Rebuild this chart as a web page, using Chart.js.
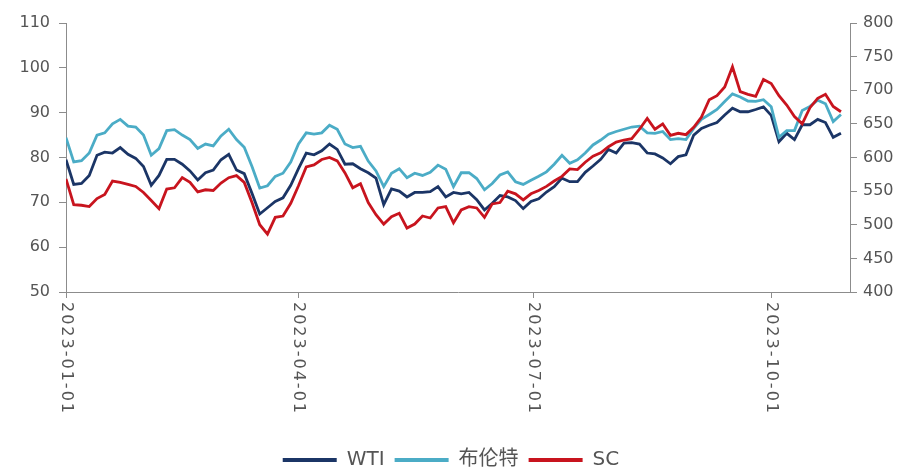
<!DOCTYPE html>
<html>
<head>
<meta charset="utf-8">
<script src="https://cdn.jsdelivr.net/npm/chart.js@4.4.1/dist/chart.umd.min.js"></script>
<style>
  html, body { margin: 0; padding: 0; background: #fff; }
  #wrap { width: 902px; height: 470px; }
</style>
</head>
<body>
<div id="wrap"><canvas id="myChart" width="902" height="470"></canvas></div>
<script>
// days since 2023-01-01
var dayOffsets = [0,3,6,9,12,15,18,21,24,27,30,33,36,39,42,45,48,51,54,57,
  60,63,66,69,72,75,78,81,84,87,90,93,96,99,102,105,108,111,114,117,
  120,123,126,129,132,135,138,141,144,147,150,153,156,159,162,165,168,171,174,177,
  180,183,186,189,192,195,198,201,204,207,210,213,216,219,222,225,228,231,234,237,
  240,243,246,249,252,255,258,261,264,267,270,273,276,279,282,285,288,291,294,297,300];

var wti = [79.5,74,74.2,76,80.5,81.2,81,82.2,80.7,79.8,78,73.8,76,79.6,79.6,78.5,77,75,76.6,77.2,
  79.5,80.7,77.2,76.4,72,67.4,68.8,70.2,71,73.8,77.5,81,80.6,81.5,83,81.8,78.5,78.6,77.5,76.6,
  75.4,69.5,73,72.5,71.2,72.2,72.2,72.4,73.5,71.2,
  72.2,71.9,72.2,70.6,68.3,69.8,71.5,71.2,70.4,68.6,70.2,70.8,72.3,73.5,75.4,74.6,74.6,76.7,78.1,79.6,
  81.8,81,83.2,83.3,83,81,80.8,79.9,78.6,80.2,80.6,85,86.5,87.2,87.8,89.5,91,90.2,90.2,90.7,
  91.3,89.4,83.5,85.4,84,87.3,87.3,88.5,87.8,84.5,85.4];

var brent = [84.4,79,79.3,81,85,85.5,87.5,88.5,87,86.8,85,80.5,82,86,86.2,85,84,82,83,82.6,
  84.8,86.3,84,82.3,78,73.2,73.7,75.8,76.5,79,83,85.5,85.2,85.5,87.2,86.3,83,82.2,82.5,79.2,
  77,73.5,76.5,77.5,75.5,76.5,76,76.7,78.3,77.4,
  73.5,76.6,76.6,75.3,72.8,74.2,76.1,76.8,74.6,74,74.9,75.8,76.8,78.5,80.5,78.7,79.5,81,82.8,83.9,
  85.2,85.8,86.3,86.8,87,85.5,85.4,85.8,84,84.2,84,86.5,88.5,89.6,90.7,92.5,94.2,93.5,92.6,92.5,
  92.9,91.3,84.5,86,86,90.5,91.4,92.8,92,88,89.6];

var sc = [568,530,529,527,539,545,565,563,560,557,548,536,524,553,555,570,563,549,552,551,
  562,570,573,563,533,500,486,511,513,532,558,586,589,597,600,595,577,555,561,533,
  515,501,512,517,495,501,513,510,525,527,
  503,522,527,525,511,531,533,550,546,537,546,551,557,565,572,583,582,593,602,607,
  616,623,626,628,642,658,642,650,633,636,634,645,660,686,692,705,735,698,694,691,
  716,710,692,678,661,650,674,688,694,676,668];

var seriesNames = ['WTI', '布伦特', 'SC'];
var tickDays = [0, 90, 181, 273];
var tickLabels = ['2023-01-01', '2023-04-01', '2023-07-01', '2023-10-01'];

var axisColor = '#8c8c8c';
var textColor = '#555555';
var numFont = '"DejaVu Sans", "Noto Sans CJK SC", sans-serif';

function toPoints(values) {
  return values.map(function (v, i) { return { x: dayOffsets[i], y: v }; });
}

// x labels read top to bottom, so they are drawn here at the scale's own tick pixels
var xLabelPlugin = {
  id: 'xLabels',
  afterDraw: function (chart) {
    var xs = chart.scales.x;
    var ctx = chart.ctx;
    ctx.save();
    ctx.fillStyle = textColor;
    ctx.font = '16px ' + numFont;
    ctx.letterSpacing = '2px';
    ctx.textAlign = 'left';
    ctx.textBaseline = 'middle';
    for (var i = 0; i < tickDays.length; i++) {
      var px = xs.getPixelForValue(tickDays[i]);
      ctx.save();
      ctx.translate(px, xs.top + 10);
      ctx.rotate(Math.PI / 2);
      ctx.fillText(tickLabels[i], 0, 0);
      ctx.restore();
    }
    ctx.restore();
  }
};

var ctx = document.getElementById('myChart').getContext('2d');
var myChart = new Chart(ctx, {
  type: 'line',
  data: {
    datasets: [{
      label: seriesNames[0],
      data: toPoints(wti),
      borderColor: '#1b3566',
      backgroundColor: '#1b3566',
      yAxisID: 'y',
      order: 3
    }, {
      label: seriesNames[1],
      data: toPoints(brent),
      borderColor: '#4bacc6',
      backgroundColor: '#4bacc6',
      yAxisID: 'y',
      order: 2
    }, {
      label: seriesNames[2],
      data: toPoints(sc),
      borderColor: '#c8141e',
      backgroundColor: '#c8141e',
      yAxisID: 'y1',
      order: 1
    }]
  },
  options: {
    responsive: false,
    animation: false,
    layout: { padding: { top: 23, left: 0, right: 0, bottom: 0 } },
    elements: {
      point: { radius: 0 },
      line: { borderWidth: 2.8, tension: 0 }
    },
    plugins: {
      tooltip: { enabled: false },
      legend: {
        position: 'bottom',
        maxHeight: 30,
        labels: {
          boxWidth: 54,
          boxHeight: 4,
          padding: 10,
          color: textColor,
          font: { size: 20, family: numFont },
          sort: function (a, b) { return a.datasetIndex - b.datasetIndex; },
          generateLabels: function (chart) {
            var items = Chart.defaults.plugins.legend.labels.generateLabels(chart);
            items.forEach(function (it) { it.lineWidth = 0; });
            return items;
          }
        }
      }
    },
    scales: {
      x: {
        type: 'linear',
        min: 0,
        max: 303.5,
        afterBuildTicks: function (axis) {
          axis.ticks = tickDays.map(function (d) { return { value: d }; });
        },
        afterFit: function (axis) { axis.height = 148; },
        ticks: { display: false },
        grid: { drawOnChartArea: false, drawTicks: true, tickLength: 6, color: axisColor },
        border: { color: axisColor, width: 1 }
      },
      y: {
        position: 'left',
        min: 50,
        max: 110,
        afterFit: function (axis) { axis.width = 66; },
        ticks: { stepSize: 10, color: textColor, padding: 9, font: { size: 16, family: numFont } },
        grid: { drawOnChartArea: false, drawTicks: true, tickLength: 7, color: axisColor },
        border: { color: axisColor, width: 1 }
      },
      y1: {
        position: 'right',
        min: 400,
        max: 800,
        afterFit: function (axis) { axis.width = 52; },
        ticks: { stepSize: 50, color: textColor, padding: 6, font: { size: 16, family: numFont } },
        grid: { drawOnChartArea: false, drawTicks: true, tickLength: 7, color: axisColor },
        border: { color: axisColor, width: 1 }
      }
    }
  },
  plugins: [xLabelPlugin]
});
</script>
</body>
</html>
